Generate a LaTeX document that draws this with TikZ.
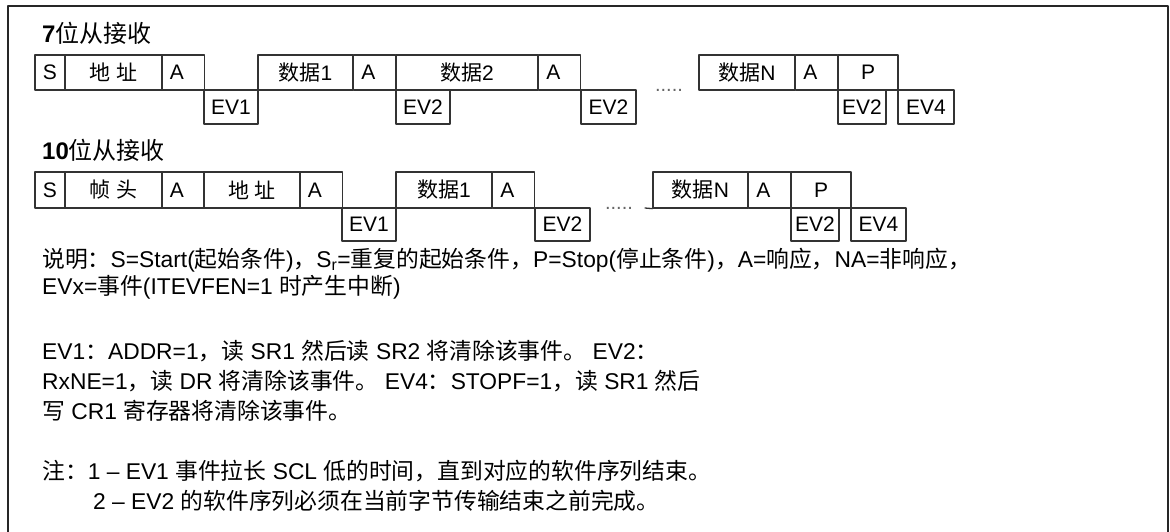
\documentclass[tikz,border=0pt]{standalone}
\usepackage{fontspec}
\setmainfont{Liberation Sans}
\newfontfamily\cjk{Noto Sans CJK SC}
\newcommand{\zht}[1]{{\cjk #1}}
\usepackage{tikz}
\usetikzlibrary{positioning}
\tikzset{
  frm/.style={draw=black!85,line width=1.6pt},
  box/.style={draw=black!80,line width=1.3pt,inner sep=0pt,font=\fontsize{21}{24}\selectfont},
  upbox/.style={box,minimum height=35pt},
  lobox/.style={box,minimum height=34pt},
  abox/.style={upbox,inner xsep=8pt,text width=26.5pt,align=left},
  ttl/.style={anchor=base west,inner sep=0pt,font=\fontsize{24}{30}\selectfont},
  txt/.style={anchor=base west,inner sep=0pt,font=\fontsize{22.8}{30}\selectfont},
  dots/.style={inner sep=0pt,text=black!60,font=\fontsize{20}{20}\selectfont}
}

\begin{document}
\begin{tikzpicture}[x=1pt,y=-1pt,line cap=round,line join=round]
\path[use as bounding box] (0,0) rectangle (1170,532);
\draw[frm] (8,532) -- (8,6) -- (1168,6) -- (1168,532);
\node[ttl] (title7) at (42,43) {\textbf{7}\zht{位从接收}};
\node[upbox,minimum width=30pt] (s1) at (50,72.5) {S};
\node[upbox,minimum width=97pt] (adr1) at (113.5,72.5) {\zht{地\hspace{6pt}址}};
\node[abox] (a1) at (183,72.5) {A};
\node[lobox,minimum width=54pt] (ev1) at (231,107) {EV1};
\node[upbox,minimum width=95pt] (d1) at (305.5,72.5) {\zht{数据}1};
\node[abox] (a2) at (374.5,72.5) {A};
\node[upbox,minimum width=142pt] (d2) at (467,72.5) {\zht{数据}2};
\node[lobox,minimum width=54pt] (ev2a) at (423,107) {EV2};
\node[abox] (a3) at (559.5,72.5) {A};
\node[lobox,minimum width=55pt] (ev2b) at (608.5,107) {EV2};
\node[dots] (dots1) at (669,90) {.....};
\node[upbox,minimum width=96pt] (dn1) at (747,72.5) {\zht{数据}N};
\node[abox] (a4) at (816.5,72.5) {A};
\node[upbox,minimum width=60pt] (p1) at (868,72.5) {P};
\node[lobox,minimum width=48pt] (ev2c) at (862,107) {EV2};
\node[lobox,minimum width=56pt] (ev4a) at (926,107) {EV4};
\node[ttl] (title10) at (42,160) {\textbf{10}\zht{位从接收}};
\node[upbox,minimum width=30pt,minimum height=36pt] (s2) at (50,190) {S};
\node[upbox,minimum width=97pt,minimum height=36pt] (hd) at (113.5,190) {\zht{帧\hspace{6pt}头}};
\node[abox,minimum height=36pt] (a5) at (183,190) {A};
\node[upbox,minimum width=96pt,minimum height=36pt] (adr2) at (252,190) {\zht{地\hspace{6pt}址}};
\node[abox,minimum height=36pt] (a6) at (321,190) {A};
\node[lobox,minimum width=54pt,minimum height=33pt] (ev1b) at (369,224.5) {EV1};
\node[upbox,minimum width=96pt,minimum height=36pt] (d1b) at (444,190) {\zht{数据}1};
\node[abox,minimum height=36pt] (a7) at (513.5,190) {A};
\node[lobox,minimum width=55pt,minimum height=33pt] (ev2d) at (562.5,224.5) {EV2};
\node[dots] (dots2) at (619,208) {.....};
\coordinate (lead) at (645,208);
\node[upbox,minimum width=95pt,minimum height=36pt] (dn2) at (700.5,190) {\zht{数据}N};
\draw[draw=black!80,line width=1.3pt] (lead) -- (dn2.south west);
\node[abox,minimum height=36pt] (a8) at (769.5,190) {A};
\node[upbox,minimum width=60pt,minimum height=36pt] (p2) at (821,190) {P};
\node[lobox,minimum width=48pt,minimum height=33pt] (ev2e) at (815,224.5) {EV2};
\node[lobox,minimum width=55pt,minimum height=33pt] (ev4b) at (878.5,224.5) {EV4};
\node[txt] (t1) at (42,267) {\zht{说明：}S=Start(\zht{起始条件})\zht{，}S\textsubscript{r}=\zht{重复的起始条件，}P=Stop(\zht{停止条件})\zht{，}A=\zht{响应，}NA=\zht{非响应，}};
\node[txt] (t2) at (42,294) {EVx=\zht{事件}(ITEVFEN=1 \zht{时产生中断})};
\node[txt] (t3) at (42,359) {EV1\zht{：}ADDR=1\zht{，读} SR1 \zht{然后读} SR2 \zht{将清除该事件。} EV2\zht{：}};
\node[txt] (t4) at (42,389) {RxNE=1\zht{，读} DR \zht{将清除该事件。} EV4\zht{：}STOPF=1\zht{，读} SR1 \zht{然后}};
\node[txt] (t5) at (42,419) {\zht{写} CR1 \zht{寄存器将清除该事件。}};
\node[txt] (t6) at (42,479) {\zht{注：}1 – EV1 \zht{事件拉长} SCL \zht{低的时间，直到对应的软件序列结束。}};
\node[txt] (t7) at (93,509) {2 – EV2 \zht{的软件序列必须在当前字节传输结束之前完成。}};
\end{tikzpicture}
\end{document}
